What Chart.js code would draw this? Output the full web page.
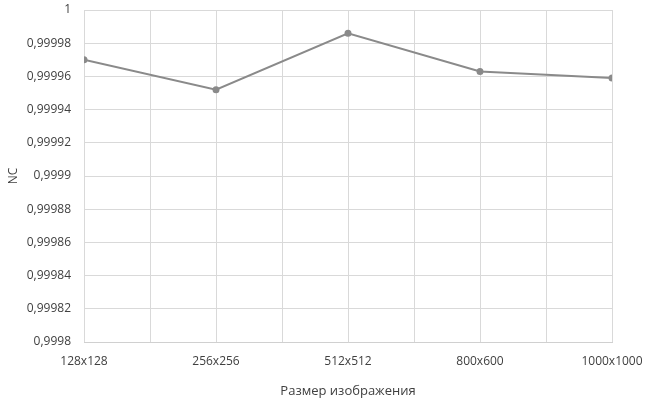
<!DOCTYPE html>
<html><head><meta charset="utf-8">
<script src="https://cdn.jsdelivr.net/npm/chart.js@4"></script>
<style>html,body{margin:0;padding:0;background:#fff}#wrap{width:658px;height:403px}</style>
</head><body><div id="wrap"><canvas id="c" width="658" height="403"></canvas></div>
<script>
const categories = ['128x128','256x256','512x512','800x600','1000x1000'];
const ncValues = [0.99997, 0.999952, 0.999986, 0.999963, 0.999959];
const yMin = 0.9998, yMax = 1, yStep = 0.00002;
const xTitle = 'Размер изображения';
const yTitle = 'NC';

const pts = ncValues.map((v,i)=>({x:i,y:v}));
const font = {family:'"Open Sans", "Noto Sans", sans-serif', size:12};
new Chart(document.getElementById('c'), {
  type:'line',
  data:{datasets:[{data:pts, borderColor:'#8a8a8a', backgroundColor:'#8a8a8a', borderWidth:2,
    pointRadius:2.5, pointBackgroundColor:'#8a8a8a', pointBorderColor:'#8a8a8a', tension:0}]},
  options:{
    responsive:false, animation:false, devicePixelRatio:1,
    layout:{padding:{top:10,right:46,left:2,bottom:0}},
    plugins:{legend:{display:false}, tooltip:{enabled:false}},
    scales:{
      x:{type:'linear', min:0, max:categories.length-1,
        afterBuildTicks:(s)=>{const t=[];for(let i=0;i<=2*(categories.length-1);i++)t.push({value:i/2});s.ticks=t;},
        ticks:{autoSkip:false, maxRotation:0, color:'#404040', font:font, padding:12,
          callback:(v)=>Number.isInteger(v)?categories[v]:''},
        grid:{color:'#d9d9d9', lineWidth:1, drawTicks:false},
        border:{color:'#d0d0d0'},
        title:{display:true, text:xTitle, color:'#404040', font:{family:font.family,size:13}, padding:{top:6}},
        afterFit:(s)=>{s.height=61;s.paddingLeft=0;s.paddingRight=0;}
      },
      y:{min:yMin, max:yMax,
        afterBuildTicks:(s)=>{const t=[];const n=Math.round((yMax-yMin)/yStep);for(let i=0;i<=n;i++)t.push({value:yMin+i*yStep});s.ticks=t;},
        ticks:{color:'#404040', font:font, padding:13,
          callback:(v)=>Number(v.toFixed(5)).toString().replace('.',',')},
        grid:{color:'#d9d9d9', lineWidth:1, drawTicks:false},
        border:{display:false},
        title:{display:true, text:yTitle, color:'#404040', font:{family:font.family,size:12}, padding:{bottom:0}},
        afterFit:(s)=>{s.width=82;s.paddingTop=0;s.paddingBottom=0;}
      }
    }
  }
});
</script></body></html>
